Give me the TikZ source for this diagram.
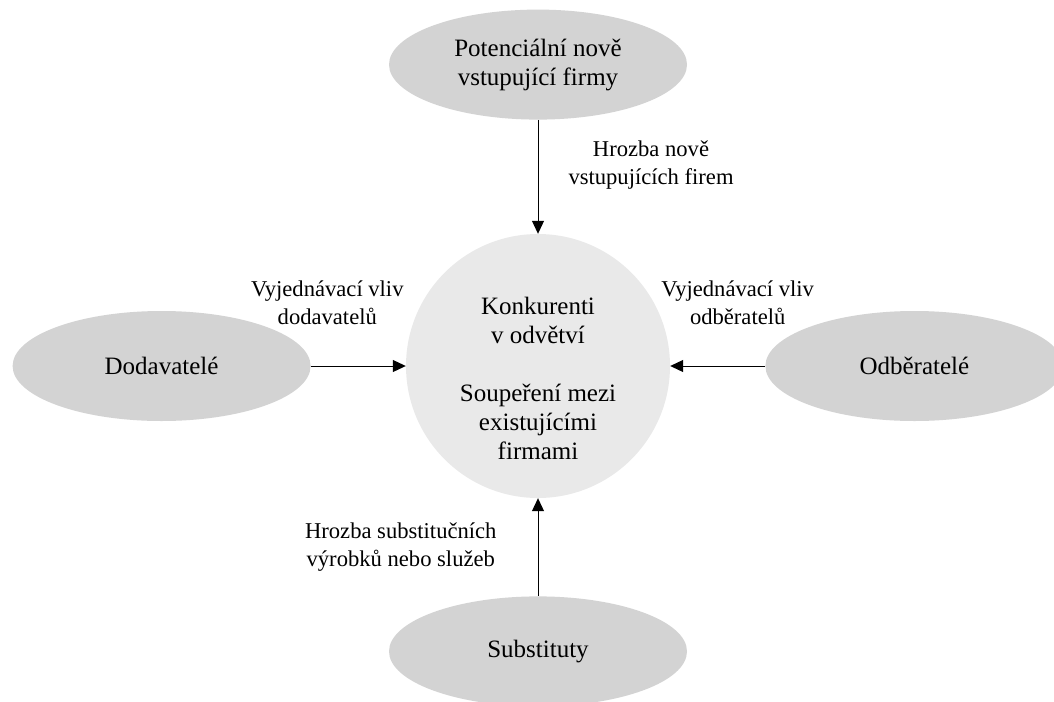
\documentclass[tikz,border=0pt]{standalone}
\usepackage{fontspec}
\setmainfont{Liberation Serif}
\usetikzlibrary{shapes.geometric, arrows.meta, positioning}
\definecolor{forcegray}{RGB}{211,211,211}
\definecolor{coregray}{RGB}{233,233,233}

\begin{document}
\begin{tikzpicture}[
    x=1pt, y=-1pt,
    node distance=98pt and 95pt,
    force/.style={ellipse, fill=forcegray, minimum width=298pt, minimum height=110pt, inner sep=2pt, align=center, font=\fontsize{25}{29}\selectfont},
    rivalry/.style={circle, fill=coregray, minimum size=264pt, inner sep=2pt},
    core/.style={align=center, inner sep=0pt, font=\fontsize{25}{29}\selectfont},
    note/.style={align=center, inner sep=0pt, font=\fontsize{22.6}{28}\selectfont},
    arrow/.style={-{Triangle[length=13pt, width=12pt]}, line width=1pt}
]
\useasboundingbox (0,0) rectangle (1054,701);

% Center
\node[rivalry] (rivals) at (538,366) {};
\node[core] (rivals_text) at ([yshift=-12pt]rivals.center) {Konkurenti\\v odvětví\\[29pt]Soupeření mezi\\existujícími\\firmami};

% Forces
\node[force, above=114pt of rivals] (entrants) {Potenciální nově\\vstupující firmy};
\node[force, left=of rivals] (suppliers) {Dodavatelé};
\node[force, right=of rivals] (buyers) {Odběratelé};
\node[force, below=of rivals] (substitutes) {Substituty};

% Connections
\draw[arrow] (entrants) -- (rivals) node[note, midway, right=30pt, yshift=12pt] {Hrozba nově\\vstupujících firem};
\draw[arrow] (suppliers) -- (rivals) node[note, midway, above=41pt, xshift=-31pt] {Vyjednávací vliv\\dodavatelů};
\draw[arrow] (buyers) -- (rivals) node[note, midway, above=41pt, xshift=20pt] {Vyjednávací vliv\\odběratelů};
\draw[arrow] (substitutes) -- (rivals) node[note, midway, left=41pt] {Hrozba substitučních\\výrobků nebo služeb};

\end{tikzpicture}
\end{document}
